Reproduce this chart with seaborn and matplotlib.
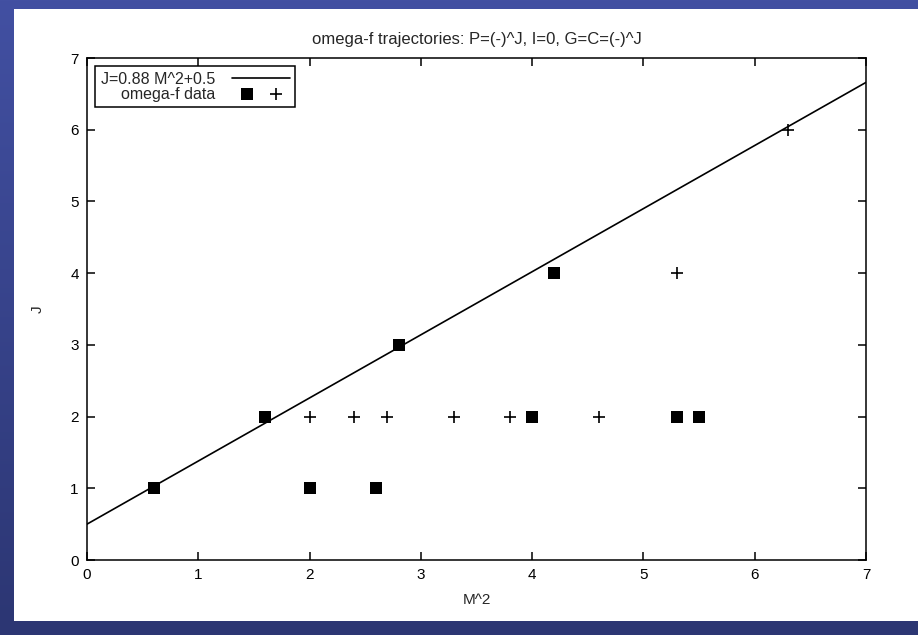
"""
omega-f trajectories: J against M^2 with the linear fit J = 0.88 M^2 + 0.5
"""

import numpy as np
import pandas as pd
import seaborn as sns
import matplotlib
matplotlib.use("Agg")
import matplotlib.pyplot as plt
from matplotlib.patches import Rectangle
from matplotlib.legend_handler import HandlerTuple

# data
sqM2 = [0.6, 1.6, 2.0, 2.6, 2.8, 4.0, 4.2, 5.3, 5.5]
sqJ = [1, 2, 1, 1, 3, 2, 4, 2, 2]
plusM2 = [2.0, 2.4, 2.7, 3.3, 3.8, 4.6, 5.3, 6.3]
plusJ = [2, 2, 2, 2, 2, 2, 4, 6]

# fitted trajectory from the legend
slope = 0.88
intercept = 0.5
fitM2 = np.array([0.0, 7.0])

xTicks = [0, 1, 2, 3, 4, 5, 6, 7]
yTicks = [0, 1, 2, 3, 4, 5, 6, 7]

datSq = pd.DataFrame({"M2": sqM2, "J": sqJ})
datPlus = pd.DataFrame({"M2": plusM2, "J": plusJ})
datFit = pd.DataFrame({"M2": fitM2, "J": slope * fitM2 + intercept})

sns.set_theme(style="ticks")
plt.rcParams['font.family'] = ['Liberation Sans', 'DejaVu Sans']
plt.rcParams['axes.linewidth'] = 1.1
plt.rcParams['xtick.direction'] = 'in'
plt.rcParams['ytick.direction'] = 'in'

fig = plt.figure(figsize=(9.18, 6.35), dpi=100)

# slide background: blue gradient with a white panel
bg = fig.add_axes([0, 0, 1, 1], zorder=-2)
grad = np.linspace(0, 1, 256).reshape(-1, 1)
bg.imshow(grad, aspect='auto', extent=[0, 1, 0, 1],
          cmap=matplotlib.colors.LinearSegmentedColormap.from_list(
              'slide', ['#4250a2', '#2c3673']))
bg.set_axis_off()
fig.patches.append(Rectangle((14 / 918, 1 - 621 / 635), 1 - 14 / 918,
                             (621 - 9) / 635, transform=fig.transFigure,
                             facecolor='white', edgecolor='none', zorder=-1))

ax = fig.add_axes([87 / 918, 1 - 560 / 635, (866 - 87) / 918, (560 - 58) / 635])

sns.lineplot(x="M2", y="J", data=datFit, ax=ax, color='black', linewidth=1.2,
             errorbar=None)
nBefore = len(ax.collections)
sns.scatterplot(x="M2", y="J", data=datSq, ax=ax, marker='s', s=70,
                color='black', edgecolor='black', linewidth=0)
sqHandle = ax.collections[nBefore]
sns.scatterplot(x="M2", y="J", data=datPlus, ax=ax, marker='+', s=70,
                color='black', linewidth=1.2)
plusHandle = ax.collections[nBefore + 1]
lineHandle = ax.lines[0]

ax.set_xlim(0, 7)
ax.set_ylim(0, 7)
ax.set_xticks(xTicks)
ax.set_yticks(yTicks)
ax.tick_params(axis='both', which='major', length=6, width=1.1,
               top=True, right=True, labelsize=11, colors='black', pad=6)
for sp in ax.spines.values():
    sp.set_visible(True)
    sp.set_color('black')

ax.set_xlabel("M^2", fontsize=11, labelpad=8)
ax.set_ylabel("J", fontsize=11, labelpad=18)
ax.set_title("omega-f trajectories: P=(-)^J, I=0, G=C=(-)^J", fontsize=12, pad=10)

leg = ax.legend([lineHandle, (sqHandle, plusHandle)],
                ["J=0.88 M^2+0.5", "omega-f data"],
                handler_map={tuple: HandlerTuple(ndivide=None, pad=0.0)},
                loc='upper left', markerfirst=False, fancybox=False,
                framealpha=1, edgecolor='black', fontsize=11.5,
                borderpad=0.35, labelspacing=0.0, handlelength=3.6,
                handletextpad=1.1, borderaxespad=0.5,
                bbox_to_anchor=(0.0, 1.0))
leg.get_frame().set_linewidth(1.1)

plt.savefig("out.png", dpi=100)
